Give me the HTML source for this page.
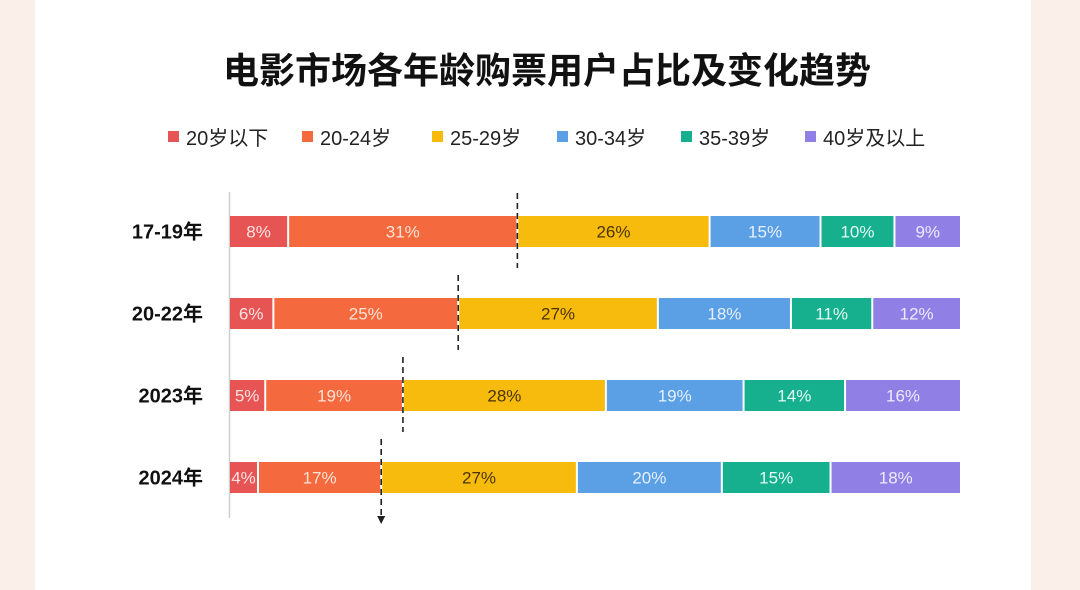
<!DOCTYPE html>
<html><head><meta charset="utf-8">
<style>
html,body{margin:0;padding:0;background:#fbefea;}
svg{display:block;font-family:"Liberation Sans","Noto Sans CJK SC",sans-serif;}
</style></head>
<body>
<svg id="chart" width="1080" height="590" viewBox="0 0 1080 590" xmlns="http://www.w3.org/2000/svg">
<rect x="0" y="0" width="1080" height="590" fill="#fbefea"/>
<rect x="35" y="0" width="996" height="590" fill="#ffffff"/>
<text x="547" y="83" text-anchor="middle" font-size="36" font-weight="bold" fill="#111">电影市场各年龄购票用户占比及变化趋势</text>
<g id="legend"></g>
<line x1="229.5" y1="192" x2="229.5" y2="518" stroke="#cfcfcf" stroke-width="1.5"/>
<g id="bars"></g>
</svg>
<script>
const categories = ["17-19年", "20-22年", "2023年", "2024年"];
const seriesNames = ["20岁以下", "20-24岁", "25-29岁", "30-34岁", "35-39岁", "40岁及以上"];
const s0 = [8, 6, 5, 4];
const s1 = [31, 25, 19, 17];
const s2 = [26, 27, 28, 27];
const s3 = [15, 18, 19, 20];
const s4 = [10, 11, 14, 15];
const s5 = [9, 12, 16, 18];
const series = [s0, s1, s2, s3, s4, s5];
const colors = ["#e65454", "#f5693f", "#f7bb0e", "#5b9fe5", "#17b08f", "#9080e6"];
const textColors = ["#fde3e3", "#fde3d6", "#4a3400", "#e6f1ff", "#e3fbf4", "#efeaff"];

const NS = "http://www.w3.org/2000/svg";
const x0 = 230, x1 = 962, barH = 31;
const rowY = i => 216 + i * 82;
function mk(tag, attrs, parent){ const e = document.createElementNS(NS, tag); for (const k in attrs) e.setAttribute(k, attrs[k]); parent.appendChild(e); return e; }

// legend
const lg = document.getElementById('legend');
const legendX = [168, 302, 432, 557, 681, 805];
seriesNames.forEach((n, i) => {
  const sq = mk('rect', {x: legendX[i], y: 131, width: 11, height: 11, fill: colors[i]}, lg);
  
  
  const t = mk('text', {x: legendX[i] + 18, y: 145, 'font-size': 20, fill: '#222'}, lg);
  
  
  t.textContent = n;
});

const bg = document.getElementById('bars');
categories.forEach((c, r) => {
  const y = rowY(r);
  const lab = mk('text', {x: 203, y: y + barH / 2 + 7, 'text-anchor': 'end', 'font-size': 20, 'font-weight': 'bold', fill: '#111'}, bg);
  
  
  lab.textContent = c;
  let total = 0; series.forEach(s => total += s[r]);
  const scale = (x1 - x0) / total;
  let cx = x0, dashX = 0;
  series.forEach((s, k) => {
    const w = s[r] * scale;
    const rect = mk('rect', {x: cx, y: y, width: Math.max(0, w - 2), height: barH, fill: colors[k]}, bg);
    
    
    const t = mk('text', {x: cx + (w - 2) / 2, y: y + barH / 2 + 6, 'text-anchor': 'middle', 'font-size': 17, fill: textColors[k]}, bg);
    
    
    t.textContent = s[r] + '%';
    cx += w;
    if (k === 1) dashX = cx - 1;
  });
  const last = r === categories.length - 1;
  const dl = mk('line', {x1: dashX, y1: y - 23, x2: dashX, y2: y + barH + (last ? 25 : 21), stroke: '#222', 'stroke-width': 1.6, 'stroke-dasharray': '6,4'}, bg);
  
  
  if (last) {
    const ar = mk('polygon', {points: `${dashX-4},${y+barH+23} ${dashX+4},${y+barH+23} ${dashX},${y+barH+31}`, fill: '#222'}, bg);
    
    
  }
});
</script>
</body></html>
